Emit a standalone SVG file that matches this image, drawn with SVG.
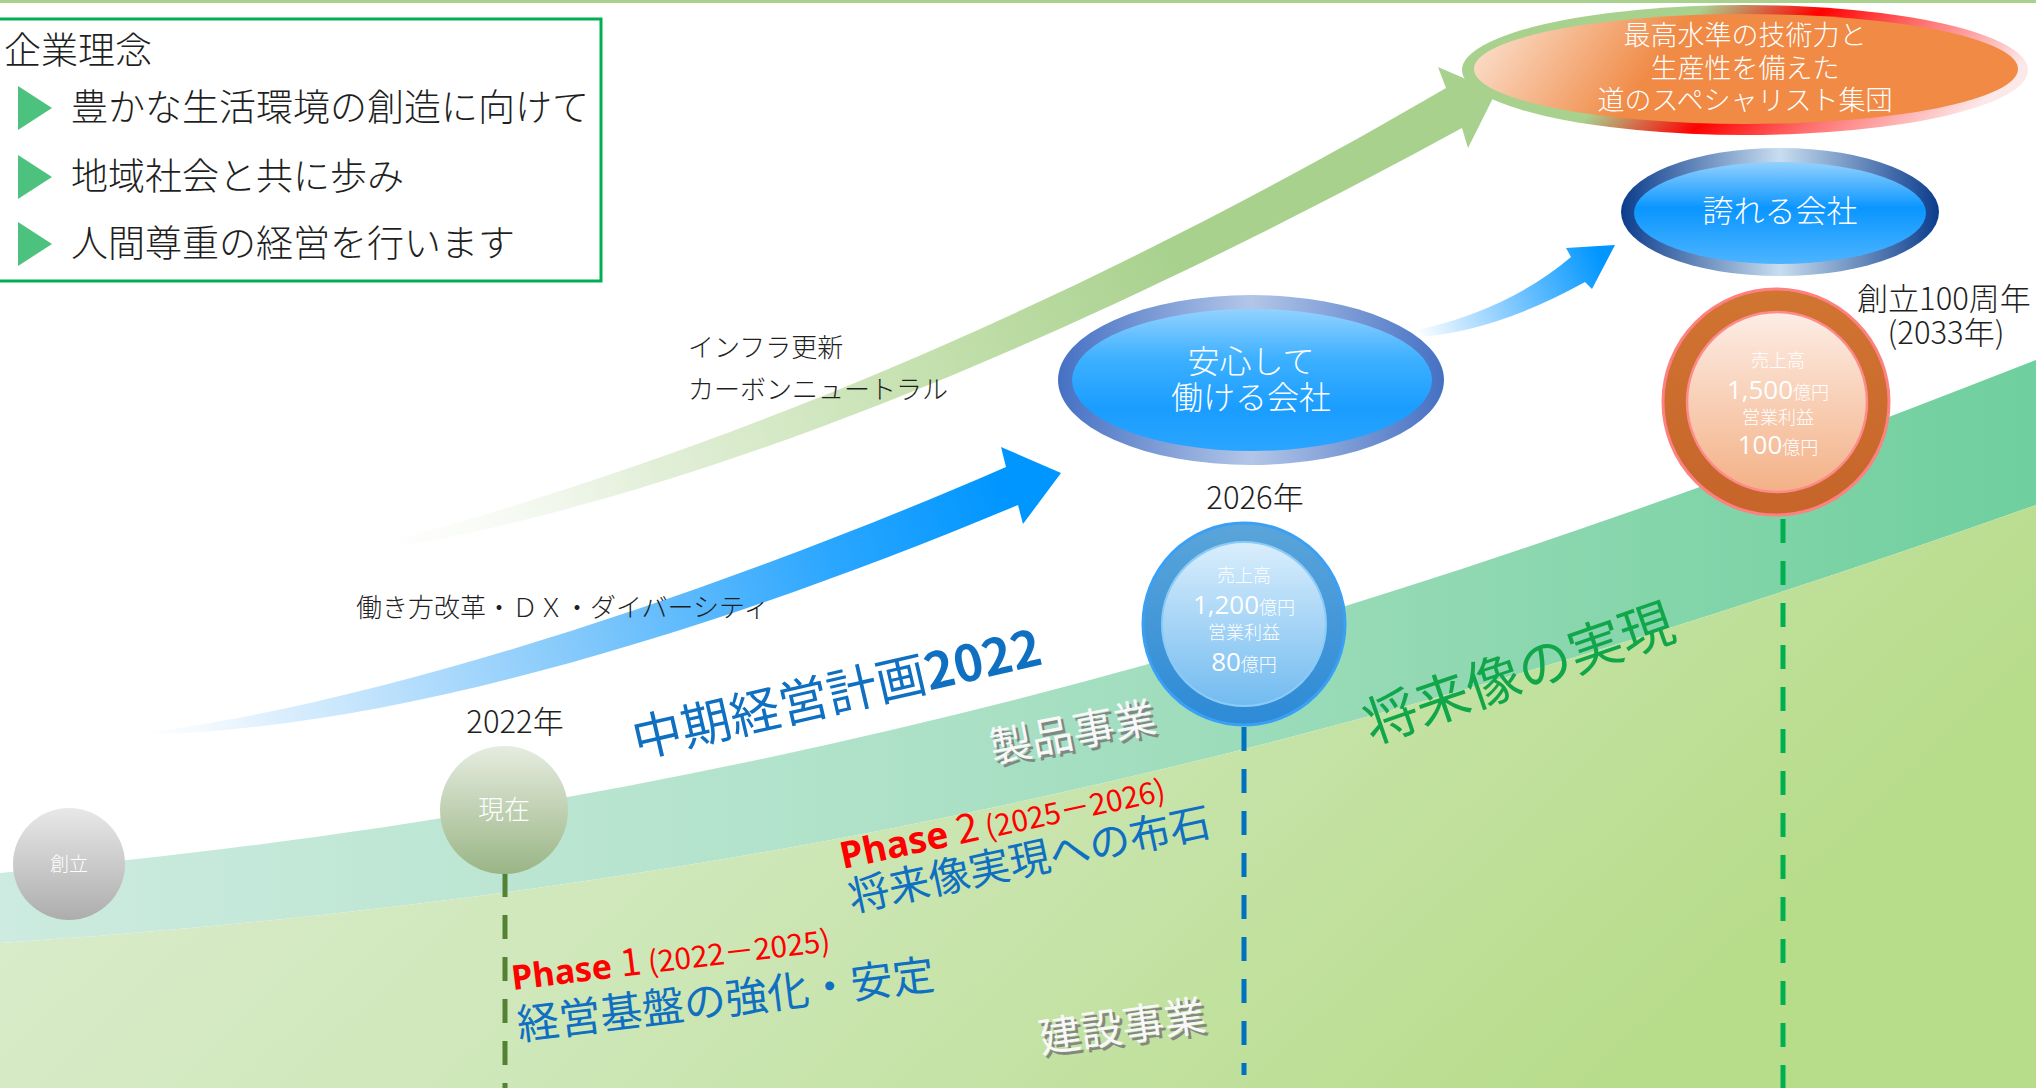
<svg xmlns="http://www.w3.org/2000/svg" width="2036" height="1088" viewBox="0 0 2036 1088">
<defs>
<style>
text{font-family:"Noto Sans CJK JP","Noto Sans",sans-serif;}
.dark{fill:#1f1f1f;font-weight:300}
.phil{font-size:37px}
.lbl{font-size:26px}
.yr{font-size:31px;text-anchor:middle}
.wt{fill:#ffffff;font-weight:300;text-anchor:middle}
.cs{fill:#ffffff;font-size:18px;text-anchor:middle;font-weight:300}
.big{font-size:26px;font-family:"Open Sans","Noto Sans",sans-serif;font-weight:400}
.seg{font-size:42px;fill:#f8f8f8}
.segsh{font-size:42px;fill:#7a7a7a;opacity:0.85}
.blu{fill:#0F6FC1}
.red{fill:#FF0000}
.ph{font-family:"Noto Sans",sans-serif;font-weight:700}
.dash{fill:none;stroke-width:5;stroke-dasharray:24 18}
</style>
<linearGradient id="gTeal" x1="0" y1="0" x2="1" y2="0">
<stop offset="0" stop-color="#CDEBE0"/><stop offset="0.45" stop-color="#ADE1C7"/><stop offset="0.7" stop-color="#92D9B3"/><stop offset="1" stop-color="#6FCF9E"/>
</linearGradient>
<linearGradient id="gYG" x1="0" y1="0" x2="1" y2="0.3">
<stop offset="0" stop-color="#E0EED6"/><stop offset="0.5" stop-color="#CEE7B8"/><stop offset="1" stop-color="#B7DC8A"/>
</linearGradient>
<linearGradient id="gArG" gradientUnits="userSpaceOnUse" x1="330" y1="558" x2="1300" y2="160">
<stop offset="0" stop-color="#ffffff" stop-opacity="0"/><stop offset="0.3" stop-color="#E4F0DB"/><stop offset="0.6" stop-color="#C4E0AE"/><stop offset="0.85" stop-color="#A9D18E"/><stop offset="1" stop-color="#A9D18E"/>
</linearGradient>
<linearGradient id="gArB" gradientUnits="userSpaceOnUse" x1="127" y1="735" x2="1000" y2="480">
<stop offset="0" stop-color="#ffffff" stop-opacity="0.4"/><stop offset="0.15" stop-color="#E0F0FD"/><stop offset="0.5" stop-color="#84C9FB"/><stop offset="0.8" stop-color="#2AA6FF"/><stop offset="1" stop-color="#0096FF"/>
</linearGradient>
<linearGradient id="gArS" gradientUnits="userSpaceOnUse" x1="1415" y1="333" x2="1600" y2="255">
<stop offset="0" stop-color="#ffffff"/><stop offset="0.5" stop-color="#7FC8FF"/><stop offset="1" stop-color="#0096FF"/>
</linearGradient>
<linearGradient id="gRing1" gradientUnits="userSpaceOnUse" x1="1617" y1="88" x2="1797" y2="278">
<stop offset="0" stop-color="#A9D18E"/><stop offset="0.32" stop-color="#FF0000"/><stop offset="0.6" stop-color="#FF6B6B"/><stop offset="1" stop-color="#FCE8E8"/>
</linearGradient>
<linearGradient id="gOrange" gradientUnits="userSpaceOnUse" x1="1480" y1="25" x2="1620" y2="120">
<stop offset="0" stop-color="#FBE2D1"/><stop offset="1" stop-color="#F08A45"/>
</linearGradient>
<linearGradient id="gProudRing" x1="0" y1="0" x2="1" y2="0">
<stop offset="0" stop-color="#0B3C8C"/><stop offset="0.5" stop-color="#C8DDEF"/><stop offset="1" stop-color="#0B3C8C"/>
</linearGradient>
<linearGradient id="gProudIn" x1="0" y1="0" x2="0" y2="1">
<stop offset="0" stop-color="#92D1FF"/><stop offset="0.45" stop-color="#0A96FF"/><stop offset="1" stop-color="#4DB4FF"/>
</linearGradient>
<linearGradient id="gSafeRing" x1="0" y1="0" x2="1" y2="0">
<stop offset="0" stop-color="#4570C3"/><stop offset="0.5" stop-color="#B3C6E8"/><stop offset="1" stop-color="#4570C3"/>
</linearGradient>
<linearGradient id="gSafeIn" x1="0" y1="0" x2="0" y2="1">
<stop offset="0" stop-color="#92D2FF"/><stop offset="0.35" stop-color="#3DB0FF"/><stop offset="0.7" stop-color="#1A9DFF"/><stop offset="1" stop-color="#2AA5FF"/>
</linearGradient>
<linearGradient id="gC26Ring" x1="0" y1="0" x2="0" y2="1">
<stop offset="0" stop-color="#5AA5DA"/><stop offset="1" stop-color="#2D8AD6"/>
</linearGradient>
<linearGradient id="gC26In" x1="0" y1="0" x2="0" y2="1">
<stop offset="0" stop-color="#DAEEFC"/><stop offset="1" stop-color="#72BBF0"/>
</linearGradient>
<linearGradient id="gC100Ring" x1="0" y1="0" x2="0" y2="1">
<stop offset="0" stop-color="#D17532"/><stop offset="1" stop-color="#C6642A"/>
</linearGradient>
<linearGradient id="gC100In" x1="0" y1="0" x2="0" y2="1">
<stop offset="0" stop-color="#FDEDE5"/><stop offset="1" stop-color="#F3B186"/>
</linearGradient>
<linearGradient id="gNow" x1="0" y1="0" x2="0" y2="1">
<stop offset="0" stop-color="#E6ECE0"/><stop offset="1" stop-color="#9AB585"/>
</linearGradient>
<linearGradient id="gFound" x1="0" y1="0" x2="0" y2="1">
<stop offset="0" stop-color="#E8E8E8"/><stop offset="1" stop-color="#ADADAD"/>
</linearGradient>
</defs>

<rect width="2036" height="1088" fill="#ffffff"/>
<rect x="0" y="0" width="2036" height="3" fill="#A9D18E"/>

<g id="background">
<path d="M0,873 C800,800 1400,610 2036,360 L2036,505 C1400,730 800,890 0,943 Z" fill="url(#gTeal)"/>
<path d="M0,943 C800,890 1400,730 2036,505 L2036,1088 L0,1088 Z" fill="url(#gYG)"/>
</g>

<g id="connectors">
<path d="M325,558 C600,490 980,360 1446,88 L1438,67 L1496,92 L1468,148 L1462,128 C1000,380 620,520 325,558 Z" fill="url(#gArG)"/>
<path d="M123,735 C350,712 700,600 1006,467 L1001,447 L1061,473 L1023,524 L1018,505 C720,630 380,735 123,735 Z" fill="url(#gArB)"/>
<path d="M1413,331 Q1508,310.5 1571,257 L1566,248 L1615,245 L1592,289 L1585,282 Q1497.5,330.5 1420,337 Z" fill="url(#gArS)"/>
<line class="dash" x1="505" y1="873" x2="505" y2="1088" stroke="#548235"/>
<line class="dash" x1="1244" y1="727" x2="1244" y2="1075" stroke="#0070C0"/>
<line class="dash" x1="1783" y1="519" x2="1783" y2="1088" stroke="#00B050"/>
</g>

<g id="philosophy">
<rect x="-3" y="19" width="604" height="262" fill="#ffffff" stroke="#00B050" stroke-width="3"/>
<text class="dark phil" x="4" y="64">企業理念</text>
<polygon points="18,86 52,108 18,130" fill="#4CC27E"/>
<text class="dark phil" x="71" y="121">豊かな生活環境の創造に向けて</text>
<polygon points="18,155 52,177 18,199" fill="#4CC27E"/>
<text class="dark phil" x="71" y="190">地域社会と共に歩み</text>
<polygon points="18,222 52,244 18,266" fill="#4CC27E"/>
<text class="dark phil" x="71" y="257">人間尊重の経営を行います</text>
</g>

<g id="goal-specialist">
<ellipse cx="1745" cy="70" rx="283" ry="65" fill="url(#gRing1)"/>
<ellipse cx="1746" cy="69" rx="272" ry="55" fill="url(#gOrange)"/>
<text class="wt" font-size="27" x="1745" y="45">最高水準の技術力と</text>
<text class="wt" font-size="27" x="1745" y="78">生産性を備えた</text>
<text class="wt" font-size="27" x="1745" y="110">道のスペシャリスト集団</text>
</g>

<g id="goal-proud">
<ellipse cx="1780" cy="212" rx="159" ry="64" fill="url(#gProudRing)"/>
<ellipse cx="1780" cy="213" rx="146" ry="51" fill="url(#gProudIn)"/>
<text class="wt" font-size="31" x="1780" y="222">誇れる会社</text>
</g>

<g id="goal-safe">
<ellipse cx="1251" cy="380" rx="193" ry="85" fill="url(#gSafeRing)"/>
<ellipse cx="1252" cy="380" rx="180" ry="71" fill="url(#gSafeIn)"/>
<text class="wt" font-size="32" x="1251" y="373">安心して</text>
<text class="wt" font-size="32" x="1251" y="409">働ける会社</text>
</g>

<g id="node-founding">
<circle cx="69" cy="864" r="56" fill="url(#gFound)"/>
<text class="wt" font-size="19" x="69" y="871">創立</text>
</g>

<g id="node-2022">
<text class="dark yr" x="515" y="733">2022年</text>
<circle cx="504" cy="810" r="64" fill="url(#gNow)"/>
<text class="wt" font-size="26" x="504" y="819">現在</text>
</g>

<g id="node-2026">
<text class="dark yr" x="1255" y="509">2026年</text>
<circle cx="1244" cy="624" r="101" fill="url(#gC26Ring)" stroke="#3AA0F5" stroke-width="3"/>
<circle cx="1244" cy="624" r="82" fill="url(#gC26In)" stroke="#8CCBF7" stroke-width="2"/>
<text class="cs" x="1244" y="582">売上高</text>
<text class="cs" x="1244" y="614"><tspan class="big">1,200</tspan>億円</text>
<text class="cs" x="1244" y="639">営業利益</text>
<text class="cs" x="1244" y="671"><tspan class="big">80</tspan>億円</text>
</g>

<g id="node-2033">
<text class="dark yr" x="1944" y="310">創立100周年</text>
<text class="dark yr" x="1946" y="344">(2033年)</text>
<circle cx="1776" cy="402" r="113" fill="url(#gC100Ring)" stroke="#FF8080" stroke-width="3"/>
<circle cx="1777" cy="402" r="90" fill="url(#gC100In)" stroke="#FF8A8A" stroke-width="2.5"/>
<text class="cs" x="1778" y="367">売上高</text>
<text class="cs" x="1778" y="399"><tspan class="big">1,500</tspan>億円</text>
<text class="cs" x="1778" y="424">営業利益</text>
<text class="cs" x="1778" y="454"><tspan class="big">100</tspan>億円</text>
</g>

<g id="labels">
<text class="dark lbl" x="688" y="357">インフラ更新</text>
<text class="dark lbl" x="688" y="399">カーボンニュートラル</text>
<text class="dark lbl" x="356" y="617">働き方改革・ＤＸ・ダイバーシティ</text>
<text class="blu" font-size="50" transform="translate(637,758) rotate(-13)">中期経営計画<tspan font-weight="700">2022</tspan></text>
<text class="segsh" transform="translate(996,766) rotate(-11)">製品事業</text>
<text class="seg" transform="translate(993,763) rotate(-11)">製品事業</text>
<text class="segsh" transform="translate(1044,1056) rotate(-8)">建設事業</text>
<text class="seg" transform="translate(1041,1053) rotate(-8)">建設事業</text>
<text fill="#12A64A" font-size="54" transform="translate(1372,744) rotate(-19)">将来像の実現</text>
<text class="red" transform="translate(843,869) rotate(-12)"><tspan class="ph" font-size="37">Phase</tspan><tspan font-size="40"> 2</tspan><tspan font-size="30"> (2025－2026)</tspan></text>
<text class="blu" font-size="41" transform="translate(852,912) rotate(-12)">将来像実現への布石</text>
<text class="red" transform="translate(513,990) rotate(-7)"><tspan class="ph" font-size="34">Phase</tspan><tspan font-size="38"> 1</tspan><tspan font-size="30"> (2022－2025)</tspan></text>
<text class="blu" font-size="42" transform="translate(519,1040) rotate(-7)">経営基盤の強化・安定</text>
</g>
</svg>
